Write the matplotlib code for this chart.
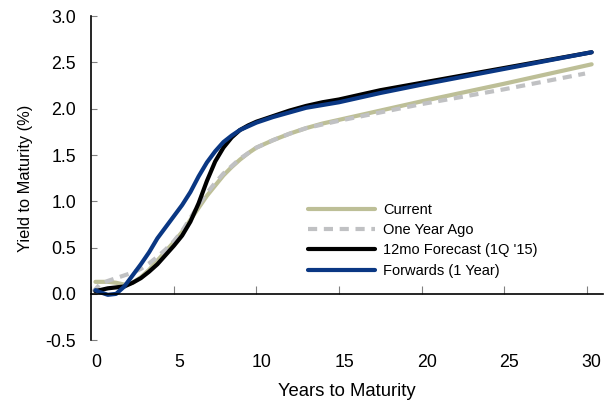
import matplotlib
matplotlib.use('Agg')
import matplotlib.pyplot as plt
from matplotlib.transforms import ScaledTranslation

plt.rcParams['font.family'] = ['Liberation Sans', 'DejaVu Sans']

# yield curves, maturity in years -> yield in %
current_x = [0.25, 1, 1.5, 2, 2.5, 3, 3.5, 4, 4.5, 5, 5.5, 6, 6.5, 7, 7.5, 8, 8.5, 9, 9.5, 10, 11, 12, 13, 14, 15, 17.5, 20, 25, 30.3]
current_y = [0.13, 0.13, 0.12, 0.10, 0.12, 0.18, 0.26, 0.36, 0.46, 0.56, 0.67, 0.80, 0.93, 1.06, 1.17, 1.28, 1.37, 1.45, 1.52, 1.58, 1.66, 1.73, 1.79, 1.84, 1.88, 1.98, 2.08, 2.27, 2.48]

year_ago_x = [0.1, 0.5, 1, 1.5, 2, 2.5, 3, 3.5, 4, 4.5, 5, 5.5, 6, 6.5, 7, 7.5, 8, 8.5, 9, 9.5, 10, 11, 12, 13, 14, 15, 17.5, 20, 25, 29.9]
year_ago_y = [0.02, 0.10, 0.14, 0.17, 0.20, 0.23, 0.27, 0.33, 0.40, 0.48, 0.57, 0.68, 0.82, 0.96, 1.09, 1.20, 1.30, 1.38, 1.46, 1.52, 1.58, 1.66, 1.73, 1.79, 1.83, 1.87, 1.96, 2.05, 2.21, 2.38]

forecast_x = [0.25, 0.5, 1, 1.5, 2, 2.5, 3, 3.5, 4, 4.5, 5, 5.5, 6, 6.5, 7, 7.5, 8, 8.5, 9, 9.5, 10, 11, 12, 13, 14, 15, 17.5, 20, 25, 30.3]
forecast_y = [0.03, 0.04, 0.06, 0.07, 0.08, 0.12, 0.17, 0.24, 0.32, 0.42, 0.52, 0.63, 0.78, 0.98, 1.22, 1.43, 1.58, 1.69, 1.77, 1.82, 1.86, 1.92, 1.98, 2.03, 2.07, 2.10, 2.20, 2.28, 2.44, 2.61]

forwards_x = [0.25, 0.5, 1, 1.5, 2, 2.5, 3, 3.5, 4, 4.5, 5, 5.5, 6, 6.5, 7, 7.5, 8, 8.5, 9, 9.5, 10, 11, 12, 13, 14, 15, 17.5, 20, 25, 30.3]
forwards_y = [0.04, 0.02, -0.01, 0.00, 0.08, 0.20, 0.32, 0.45, 0.60, 0.72, 0.84, 0.96, 1.10, 1.27, 1.42, 1.54, 1.64, 1.71, 1.77, 1.81, 1.85, 1.91, 1.96, 2.01, 2.04, 2.07, 2.17, 2.26, 2.43, 2.61]

fig = plt.figure(figsize=(6.13, 4.04), dpi=100)
ax = fig.add_axes([0.149, 0.158, 0.835, 0.802])

ax.plot(current_x, current_y, color='#BDBF97', lw=3, label='Current', solid_capstyle='round')
ax.plot(year_ago_x, year_ago_y, color='#C0C1C3', lw=3, ls=(0, (2.2, 1.6)), label='One Year Ago')
ax.plot(forecast_x, forecast_y, color='black', lw=3, label="12mo Forecast (1Q '15)", solid_capstyle='round')
ax.plot(forwards_x, forwards_y, color='#0A3783', lw=3, label='Forwards (1 Year)', solid_capstyle='round')

ax.set_xlim(0, 31)
ax.set_ylim(-0.5, 3.0)
ax.set_xticks(range(0, 31, 5))
ax.set_yticks([-0.5, 0, 0.5, 1.0, 1.5, 2.0, 2.5, 3.0])
ax.yaxis.set_major_formatter(plt.FormatStrFormatter('%.1f'))

# x axis sits at zero, labels stay below the plot
ax.spines['top'].set_visible(False)
ax.spines['right'].set_visible(False)
ax.spines['bottom'].set_position(('data', 0))
ax.spines['bottom'].set_linewidth(1.2)
ax.spines['left'].set_linewidth(1.2)
ax.tick_params(axis='x', direction='in', length=6, color='#808080', labelsize=12.8, pad=43)
ax.tick_params(axis='y', direction='in', length=4, color='#808080', labelsize=12.8, pad=11)

shift = ScaledTranslation(5 / 100, 0, fig.dpi_scale_trans)
for lbl in ax.get_xticklabels():
    lbl.set_transform(lbl.get_transform() + shift)

ax.set_xlabel('Years to Maturity', fontsize=13.3, labelpad=9)
ax.set_ylabel('Yield to Maturity (%)', fontsize=11.8, labelpad=9)

ax.legend(loc='upper left', bbox_to_anchor=(0.49, 0.515), bbox_transform=fig.transFigure,
          frameon=False, fontsize=10.5, handlelength=4.6, handletextpad=0.6, labelspacing=0.42,
          borderpad=0)

fig.savefig('out.png', dpi=100)
